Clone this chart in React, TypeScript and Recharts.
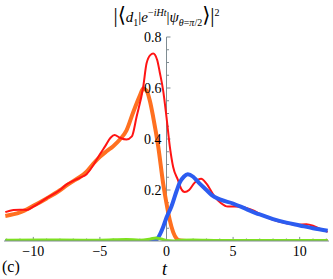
import { LineChart, Line, XAxis, YAxis, ReferenceLine, ReferenceDot, Label } from 'recharts'

const AXIS = '#7f8c92'
const FONT = '"Times New Roman", Times, "Liberation Serif", Tinos, "DejaVu Serif", serif'

// curves: t values and amplitudes
const orangeT = [-12.1, -11, -10, -9, -8, -7.5, -7, -6.5, -6, -5.5, -5, -4.5, -4, -3.5, -3, -2.5, -2, -1.75, -1.5, -1.25, -1, -0.62, -0.25, 0, 0.25, 0.5, 0.75, 1, 1.5, 4, 8, 12.1]
const orangeV = [0.098, 0.112, 0.138, 0.167, 0.199, 0.218, 0.235, 0.251, 0.272, 0.303, 0.33, 0.352, 0.372, 0.398, 0.434, 0.505, 0.57, 0.598, 0.59, 0.55, 0.486, 0.37, 0.225, 0.147, 0.081, 0.035, 0.01, 0.002, 0, 0, 0, 0]

const redT = [-12.1, -11.5, -11, -10.5, -10, -9, -8, -7.5, -7, -6.5, -6, -5.5, -5, -4.6, -4.2, -3.9, -3.5, -3, -2.6, -2.25, -1.75, -1.5, -1.2, -1, -0.7, -0.5, -0.25, 0, 0.25, 0.5, 0.87, 1.1, 1.37, 1.7, 2.1, 2.6, 3, 3.6, 4.1, 4.6, 5.1, 5.6, 6.1, 6.6, 7, 8, 9, 9.8, 10.5, 11, 11.5, 12.1]
const redV = [0.113, 0.122, 0.123, 0.122, 0.135, 0.168, 0.2, 0.222, 0.236, 0.248, 0.262, 0.297, 0.34, 0.372, 0.405, 0.416, 0.405, 0.398, 0.41, 0.486, 0.604, 0.696, 0.73, 0.735, 0.71, 0.66, 0.59, 0.486, 0.37, 0.29, 0.238, 0.205, 0.192, 0.2, 0.228, 0.244, 0.225, 0.175, 0.148, 0.135, 0.135, 0.134, 0.128, 0.118, 0.106, 0.083, 0.07, 0.064, 0.066, 0.06, 0.048, 0.036]

const blueT = [-12.1, -6, -1, -0.75, -0.5, -0.25, 0, 0.37, 0.75, 1, 1.3, 1.6, 2, 2.4, 3, 3.4, 4, 5, 6, 7, 8, 9, 10, 11, 12.1]
const blueV = [0, 0, 0, 0.005, 0.025, 0.055, 0.092, 0.135, 0.195, 0.23, 0.252, 0.262, 0.252, 0.23, 0.2, 0.18, 0.163, 0.147, 0.125, 0.104, 0.086, 0.072, 0.061, 0.05, 0.04]

const greenT = [-12.1, -8, -5, -3, -2, -1.2, -0.8, -0.4, 0, 0.5, 1, 2, 4, 8, 12.1]
const greenV = [0.003, 0.004, 0.003, 0.006, 0.003, 0.008, 0.012, 0.008, 0.002, 0, 0.003, 0.004, 0.002, 0.002, 0.002]

const xTicks = [-10, -5, 0, 5, 10]
const xMajorTicks = [-10, -5, 5, 10]
const xMinorTicks = [-12, -11, -9, -8, -7, -6, -4, -3, -2, -1, 1, 2, 3, 4, 6, 7, 8, 9, 11, 12]
const yLabels = [0.2, 0.4, 0.6, 0.8]
const yMinorTicks = [0.05, 0.1, 0.15, 0.25, 0.3, 0.35, 0.45, 0.5, 0.55, 0.65, 0.7, 0.75]

const toRows = (ts: number[], vs: number[]) => ts.map((t, i) => ({ t, v: vs[i] }))

const orange = toRows(orangeT, orangeV)
const red = toRows(redT, redV)
const blue = toRows(blueT, blueV)
const green = toRows(greenT, greenV)

export default function App() {
  return (
    <div style={{ position: 'fixed', left: 0, top: 0, width: 333, height: 279, background: '#fff', fontFamily: FONT }}>
      <LineChart width={333} height={279} margin={{ top: 37, right: 4, bottom: 8, left: 4 }}>
        <XAxis
          dataKey="t"
          type="number"
          domain={[-12.2, 12.2]}
          ticks={xTicks}
          allowDataOverflow
          height={30}
          tickLine={false}
          tickSize={3}
          axisLine={{ stroke: AXIS }}
          tick={{ fontSize: 14, fill: '#000', fontFamily: FONT }}
          tickFormatter={(v: number) => String(v).replace('-', '\u2212')}
        />
        <YAxis hide type="number" domain={[0, 0.8]} allowDataOverflow />

        {/* vertical axis through t = 0 */}
        <ReferenceLine x={0} stroke={AXIS} />
        {yLabels.map((v) => (
          <ReferenceLine key={'ym' + v} segment={[{ x: 0, y: v }, { x: 0.3, y: v }]} stroke={AXIS} />
        ))}
        {yMinorTicks.map((v) => (
          <ReferenceLine key={'yn' + v} segment={[{ x: 0, y: v }, { x: 0.19, y: v }]} stroke={AXIS} />
        ))}
        {xMajorTicks.map((t) => (
          <ReferenceLine key={'xm' + t} segment={[{ x: t, y: 0 }, { x: t, y: 0.016 }]} stroke={AXIS} />
        ))}
        {xMinorTicks.map((t) => (
          <ReferenceLine key={'xn' + t} segment={[{ x: t, y: 0 }, { x: t, y: 0.0098 }]} stroke={AXIS} />
        ))}
        {yLabels.map((v) => (
          <ReferenceDot key={'yl' + v} x={0} y={v} r={0} fill="none" stroke="none">
            <Label value={v.toFixed(1)} position="left" offset={5} fill="#000" fontSize={14} fontFamily={FONT} />
          </ReferenceDot>
        ))}

        <Line data={orange} dataKey="v" type="monotone" stroke="#ff7020" strokeWidth={4} dot={false} isAnimationActive={false} />
        <Line data={red} dataKey="v" type="monotone" stroke="#ff1414" strokeWidth={2} dot={false} isAnimationActive={false} />
        <Line data={blue} dataKey="v" type="monotone" stroke="#2c5cf0" strokeWidth={4} dot={false} isAnimationActive={false} />
        <Line data={green} dataKey="v" type="monotone" stroke="#7ee020" strokeWidth={3} dot={false} isAnimationActive={false} />
      </LineChart>

      <div style={{ position: 'absolute', left: 0, top: 0, width: 333, textAlign: 'center', fontSize: 15, lineHeight: '26px', whiteSpace: 'nowrap' }}>
        <span style={{ fontSize: 21 }}>|⟨</span>
        <i>d</i><sub style={{ fontSize: 10 }}>1</sub>|<i>e</i>
        <sup style={{ fontSize: 10 }}>−<i>iHt</i></sup>|<i>ψ</i>
        <sub style={{ fontSize: 10 }}><i>θ</i>=<i>π</i>/2</sub>
        <span style={{ fontSize: 21 }}>⟩|</span>
        <sup style={{ fontSize: 10 }}>2</sup>
      </div>
      <div style={{ position: 'absolute', left: 2, top: 258, fontSize: 16, lineHeight: '18px' }}>(c)</div>
      <div style={{ position: 'absolute', left: 162, top: 260, fontSize: 18, lineHeight: '18px', fontStyle: 'italic' }}>t</div>
    </div>
  )
}
